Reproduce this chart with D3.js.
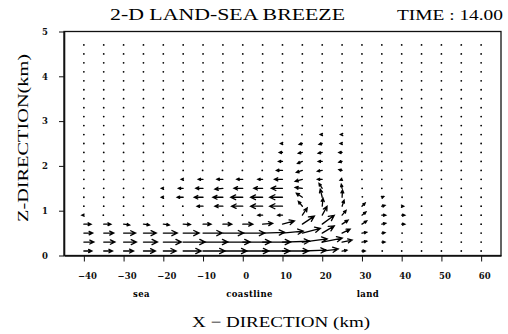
<!DOCTYPE html>
<html>
<head>
<meta charset="utf-8">
<script src="https://cdn.jsdelivr.net/npm/d3@7"></script>
<style>
  body { margin: 0; background: #fff; }
  svg { display: block; }
</style>
</head>
<body>
<div id="chart"></div>
<script>
// grid of the model (km)
var xKm = [-40, -35, -30, -25, -20, -15, -10, -5, 0, 5, 10, 15, 20, 25, 30, 35, 40, 45, 50, 55, 60];
var zKm = [0.1, 0.3, 0.5, 0.7, 0.9, 1.1, 1.3, 1.5, 1.7, 1.9, 2.1, 2.3, 2.5, 2.7, 2.9, 3.1, 3.3, 3.5, 3.7, 3.9, 4.1, 4.3, 4.5, 4.7];

// horizontal wind, one row per level (bottom first)
var uWind = [
  [2.0, 2.2, 2.5, 3.0, 3.2, 4.5, 5.5, 6.0, 6.5, 6.8, 6.5, 6.0, 4.0, 1.2, 0.8, 0.2, 0, 0, 0, 0, 0],
  [2.5, 2.8, 3.2, 3.5, 4.5, 5.5, 6.2, 6.8, 7.0, 7.0, 6.8, 6.2, 5.0, 2.5, 1.2, 0.8, 0.2, 0, 0, 0, 0],
  [2.2, 2.5, 3.0, 3.2, 3.5, 4.0, 4.8, 5.2, 5.5, 5.5, 5.2, 4.5, 3.0, 2.0, 1.2, 0.8, 0.2, 0, 0, 0, 0],
  [1.8, 1.8, 1.5, 1.5, 1.5, 1.8, 2.0, 2.2, 2.5, 2.5, 3.0, 3.0, 3.0, 1.5, 1.2, 1.0, 0.8, 0, 0, 0, 0],
  [-0.5, -0.2, 0, 0, 0, 0, 0, 0, -0.2, -1.2, -1.2, 1.2, 1.2, 1.0, 1.0, 1.0, 0.8, 0.1, 0, 0, 0],
  [0, 0, 0, 0, 0, -0.2, -1.5, -2.0, -2.8, -3.0, -3.2, -1.0, 0.2, 0.5, 0.8, 0.8, 0.5, 0, 0, 0, 0],
  [0, 0, 0, 0, -0.5, -1.5, -2.2, -2.5, -3.0, -3.0, -3.2, -1.5, -0.5, 0.1, 0.2, 0.5, 0.2, 0, 0, 0, 0],
  [0, 0, 0, 0, -0.5, -1.2, -1.8, -2.0, -2.2, -2.2, -2.8, -1.8, -0.8, -0.2, 0.1, 0, 0, 0, 0, 0, 0],
  [0, 0, 0, 0, 0, -0.5, -1.2, -1.5, -1.5, -1.2, -2.0, -1.8, -1.2, -0.5, 0, 0, 0, 0, 0, 0, 0],
  [0, 0, 0, 0, 0, 0, -0.2, -0.2, -0.2, -0.2, -1.5, -1.5, -1.2, -0.8, 0, 0, 0, 0, 0, 0, 0],
  [0, 0, 0, 0, 0, 0, 0, 0, 0, -0.2, -1.0, -1.2, -1.0, -0.8, 0, 0, 0, 0, 0, 0, 0],
  [0, 0, 0, 0, 0, 0, 0, 0, 0, 0, -0.8, -1.0, -1.0, -0.8, 0, 0, 0, 0, 0, 0, 0],
  [0, 0, 0, 0, 0, 0, 0, 0, 0, 0, -0.5, -0.8, -0.8, -0.5, 0, 0, 0, 0, 0, 0, 0],
  [0, 0, 0, 0, 0, 0, 0, 0, 0, 0, 0, -0.2, -0.5, -0.4, 0, 0, 0, 0, 0, 0, 0],
  [0, 0, 0, 0, 0, 0, 0, 0, 0, 0, 0, 0, 0, 0, 0, 0, 0, 0, 0, 0, 0],
  [0, 0, 0, 0, 0, 0, 0, 0, 0, 0, 0, 0, 0, 0, 0, 0, 0, 0, 0, 0, 0],
  [0, 0, 0, 0, 0, 0, 0, 0, 0, 0, 0, 0, 0, 0, 0, 0, 0, 0, 0, 0, 0],
  [0, 0, 0, 0, 0, 0, 0, 0, 0, 0, 0, 0, 0, 0, 0, 0, 0, 0, 0, 0, 0],
  [0, 0, 0, 0, 0, 0, 0, 0, 0, 0, 0, 0, 0, 0, 0, 0, 0, 0, 0, 0, 0],
  [0, 0, 0, 0, 0, 0, 0, 0, 0, 0, 0, 0, 0, 0, 0, 0, 0, 0, 0, 0, 0],
  [0, 0, 0, 0, 0, 0, 0, 0, 0, 0, 0, 0, 0, 0, 0, 0, 0, 0, 0, 0, 0],
  [0, 0, 0, 0, 0, 0, 0, 0, 0, 0, 0, 0, 0, 0, 0, 0, 0, 0, 0, 0, 0],
  [0, 0, 0, 0, 0, 0, 0, 0, 0, 0, 0, 0, 0, 0, 0, 0, 0, 0, 0, 0, 0],
  [0, 0, 0, 0, 0, 0, 0, 0, 0, 0, 0, 0, 0, 0, 0, 0, 0, 0, 0, 0, 0]
];

// vertical wind (exaggerated), same layout
var wWind = [
  [0, 0, 0, 0, 0, 0, 0, 0, 0, 0, 0, 0.2, 0.5, 0.2, 0, 0, 0, 0, 0, 0, 0],
  [0, 0, 0, 0, 0, 0, 0, 0, 0, 0, 0.2, 0.8, 1.0, 0.5, 0.2, 0, 0, 0, 0, 0, 0],
  [0, 0, 0, 0, 0, 0, 0, 0, 0, 0.2, 0.5, 1.2, 1.8, 1.0, 0.2, 0.1, 0, 0, 0, 0, 0],
  [0, 0, -0.2, -0.2, -0.2, -0.1, 0, 0, 0, 0.2, 0.8, 2.0, 2.2, 1.0, 0.8, 0.2, 0, 0, 0, 0, 0],
  [0, 0, 0, 0, 0, 0, 0, 0, 0, 0, 0, 1.8, 2.2, 1.2, 0.8, 0, 0, 0, 0, 0, 0],
  [0, 0, 0, 0, 0, 0, 0, 0, 0, 0, 0, 1.2, 2.0, 1.5, 0.8, 0.2, 0, 0, 0, 0, 0],
  [0, 0, 0, 0, 0, 0, 0, 0, 0, 0, 0, 1.0, 2.0, 1.8, 0.2, 0.2, 0, 0, 0, 0, 0],
  [0, 0, 0, 0, 0, 0, 0, -0.2, 0, 0, 0, 0.2, 1.2, 1.0, 0, 0, 0, 0, 0, 0, 0],
  [0, 0, 0, 0, 0, 0, 0, 0, 0, 0, 0, -0.5, 0, -0.2, 0, 0, 0, 0, 0, 0, 0],
  [0, 0, 0, 0, 0, 0, 0, 0, 0, 0, 0, -0.5, -0.2, 0.2, 0, 0, 0, 0, 0, 0, 0],
  [0, 0, 0, 0, 0, 0, 0, 0, 0, 0, 0, -0.5, 0, -0.2, 0, 0, 0, 0, 0, 0, 0],
  [0, 0, 0, 0, 0, 0, 0, 0, 0, 0, 0, -0.2, -0.2, 0, 0, 0, 0, 0, 0, 0, 0],
  [0, 0, 0, 0, 0, 0, 0, 0, 0, 0, 0, -0.2, -0.2, 0, 0, 0, 0, 0, 0, 0, 0],
  [0, 0, 0, 0, 0, 0, 0, 0, 0, 0, 0, 0, 0, 0, 0, 0, 0, 0, 0, 0, 0],
  [0, 0, 0, 0, 0, 0, 0, 0, 0, 0, 0, 0, 0, 0, 0, 0, 0, 0, 0, 0, 0],
  [0, 0, 0, 0, 0, 0, 0, 0, 0, 0, 0, 0, 0, 0, 0, 0, 0, 0, 0, 0, 0],
  [0, 0, 0, 0, 0, 0, 0, 0, 0, 0, 0, 0, 0, 0, 0, 0, 0, 0, 0, 0, 0],
  [0, 0, 0, 0, 0, 0, 0, 0, 0, 0, 0, 0, 0, 0, 0, 0, 0, 0, 0, 0, 0],
  [0, 0, 0, 0, 0, 0, 0, 0, 0, 0, 0, 0, 0, 0, 0, 0, 0, 0, 0, 0, 0],
  [0, 0, 0, 0, 0, 0, 0, 0, 0, 0, 0, 0, 0, 0, 0, 0, 0, 0, 0, 0, 0],
  [0, 0, 0, 0, 0, 0, 0, 0, 0, 0, 0, 0, 0, 0, 0, 0, 0, 0, 0, 0, 0],
  [0, 0, 0, 0, 0, 0, 0, 0, 0, 0, 0, 0, 0, 0, 0, 0, 0, 0, 0, 0, 0],
  [0, 0, 0, 0, 0, 0, 0, 0, 0, 0, 0, 0, 0, 0, 0, 0, 0, 0, 0, 0, 0],
  [0, 0, 0, 0, 0, 0, 0, 0, 0, 0, 0, 0, 0, 0, 0, 0, 0, 0, 0, 0, 0]
];

var xTicks = [-40, -30, -20, -10, 0, 10, 20, 30, 40, 50, 60];
var zTicks = [0, 1, 2, 3, 4, 5];
var placeNames = ["sea", "coastline", "land"];
var placeKm = [-25.5, 1.7, 31.5];

var W = 508, H = 334;
var svg = d3.select("#chart").append("svg").attr("width", W).attr("height", H);
svg.append("rect").attr("width", W).attr("height", H).attr("fill", "#fff");

var x = d3.scaleLinear().domain([-45, 65]).range([64, 501]);
var y = d3.scaleLinear().domain([0, 5]).range([255.5, 31.5]);
var vec = d3.scaleLinear().domain([0, 1]).range([0, 4]);

// frame
svg.append("rect")
  .attr("x", x(-45)).attr("y", y(5))
  .attr("width", x(65) - x(-45)).attr("height", y(0) - y(5))
  .attr("fill", "none").attr("stroke", "#111").attr("stroke-width", 1.3);

var xAxis = d3.axisBottom(x).tickValues(xTicks).tickSize(6).tickSizeOuter(0).tickPadding(11);
var yAxis = d3.axisLeft(y).tickValues(zTicks).tickFormat(d3.format("d")).tickSize(5).tickSizeOuter(0).tickPadding(12);

var gx = svg.append("g").attr("transform", "translate(0," + y(0) + ")").call(xAxis);
var gy = svg.append("g").attr("transform", "translate(" + x(-45) + ",0)").call(yAxis);

var labelFont = "DejaVu Serif";
[gx, gy].forEach(function(g) {
  g.select(".domain").attr("stroke", "#111").attr("stroke-width", 1.6);
  g.selectAll(".tick line").attr("stroke", "#111").attr("stroke-width", 1);
  g.selectAll(".tick text")
    .attr("fill", "#111")
    .style("font-family", labelFont)
    .style("font-weight", "bold")
    .style("font-size", "8.5px");
});
gx.selectAll(".tick text").attr("dx", 3);
gy.selectAll(".tick text").attr("text-anchor", "middle").attr("x", -19);

// sea / coastline / land
svg.selectAll(".place")
  .data(placeNames)
  .enter()
  .append("text")
  .attr("class", "place")
  .attr("x", (d, i) => x(placeKm[i]))
  .attr("y", 297)
  .attr("text-anchor", "middle")
  .style("font-family", labelFont)
  .style("font-weight", "bold")
  .style("font-size", "8.5px")
  .style("letter-spacing", "0.4px")
  .text(d => d);

// titles
var serif = "Liberation Serif";
svg.append("text").attr("x", 110).attr("y", 20).attr("textLength", 235).attr("lengthAdjust", "spacingAndGlyphs")
  .style("font-family", serif).style("font-size", "17px").text("2-D LAND-SEA BREEZE");
svg.append("text").attr("x", 397).attr("y", 19.5).attr("textLength", 106).attr("lengthAdjust", "spacingAndGlyphs")
  .style("font-family", serif).style("font-size", "14px").text("TIME : 14.00");
svg.append("text").attr("x", 192).attr("y", 327).attr("textLength", 178).attr("lengthAdjust", "spacingAndGlyphs")
  .style("font-family", serif).style("font-size", "15px").text("X \u2212 DIRECTION (km)");
svg.append("text").attr("transform", "translate(28,222) rotate(-90)").attr("textLength", 168).attr("lengthAdjust", "spacingAndGlyphs")
  .style("font-family", serif).style("font-size", "15px").text("Z-DIRECTION(km)");

// wind vectors: tail at the grid point
var field = [];
zKm.forEach(function(z, j) {
  xKm.forEach(function(xv, i) {
    field.push({ x: xv, z: z, u: uWind[j][i], w: wWind[j][i] });
  });
});

var g = svg.append("g").attr("stroke", "#000").attr("fill", "none")
  .attr("stroke-width", 1.3).attr("stroke-linecap", "round");

field.forEach(function(d) {
  var x0 = x(d.x), y0 = y(d.z);
  var dx = (d.u < 0 ? -1 : 1) * vec(Math.abs(d.u));
  var dy = -(d.w < 0 ? -1 : 1) * vec(Math.abs(d.w));
  var len = Math.sqrt(dx * dx + dy * dy);
  if (len < 1.5) {
    g.append("circle").attr("cx", x0 + dx / 2).attr("cy", y0 + dy / 2).attr("r", 0.9)
      .attr("fill", "#000").attr("stroke", "none");
    return;
  }
  var x1 = x0 + dx, y1 = y0 + dy;
  var ang = Math.atan2(dy, dx);
  var h = Math.max(2.5, Math.min(6, len * 0.45));
  var a = 0.45;
  var p = "M" + x0 + "," + y0 + "L" + x1 + "," + y1 +
    "M" + (x1 - h * Math.cos(ang - a)) + "," + (y1 - h * Math.sin(ang - a)) +
    "L" + x1 + "," + y1 +
    "L" + (x1 - h * Math.cos(ang + a)) + "," + (y1 - h * Math.sin(ang + a));
  g.append("path").attr("d", p);
});
</script>
</body>
</html>
